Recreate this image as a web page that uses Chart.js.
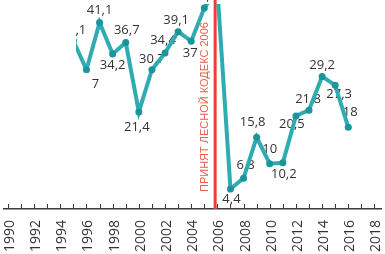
<!DOCTYPE html>
<html>
<head>
<meta charset="utf-8">
<script src="https://cdn.jsdelivr.net/npm/chart.js@4"></script>
<style>
  html, body { margin: 0; padding: 0; background: #fff; }
  canvas { display: block; }
</style>
</head>
<body>
<canvas id="chart" width="385" height="254"></canvas>
<script>
// values (1990-1994 are hidden in the reference)
const years = [1995, 1996, 1997, 1998, 1999, 2000, 2001, 2002, 2003, 2004, 2005,
               2006, 2007, 2008, 2009, 2010, 2011, 2012, 2013, 2014, 2015, 2016];
const values = [37.1, 30.7, 41.1, 34.2, 36.7, 21.4, 30.7, 34.4, 39.1, 37, 44.3,
                48.5, 4.4, 6.8, 15.8, 10, 10.2, 20.5, 21.8, 29.2, 27.3, 18];
const tickYears = [1990, 1992, 1994, 1996, 1998, 2000, 2002, 2004, 2006,
                   2008, 2010, 2012, 2014, 2016, 2018];
const lawYear = 2006;
const lawText = 'ПРИНЯТ ЛЕСНОЙ КОДЕКС 2006';

// where each value label sits, relative to its point (dx, dy)
const labelShift = [
  [0, -10], [0, 15], [0, -12], [0, 11], [1, -12], [-2, 15], [0, -10], [-2, -13],
  [-2, -11], [-1, 12], [0, -12], [0, -12], [1, 10], [2, -13], [-4, -15], [0, -14],
  [1, 12], [-4, 8], [-1, -11], [0, -11], [4, 9], [2, -15]
];

const allYears = [];
for (let y = tickYears[0]; y <= tickYears[tickYears.length - 1]; y++) allYears.push(y);

const fmt = v => String(v).replace('.', ',');

const yearTicks = {
  id: 'yearTicks',
  afterDraw(chart) {
    const xs = chart.scales.x, c = chart.ctx, b = chart.chartArea.bottom;
    c.save();
    c.strokeStyle = '#3a3a3a';
    c.lineWidth = 1;
    allYears.forEach(y => {
      const x = Math.round(xs.getPixelForValue(y)) + 0.5;
      c.beginPath();
      c.moveTo(x, b - 5);
      c.lineTo(x, b);
      c.stroke();
    });
    c.restore();
  }
};

const lawLine = {
  id: 'lawLine',
  beforeDatasetsDraw(chart) {
    const xs = chart.scales.x, c = chart.ctx, a = chart.chartArea;
    const x = xs.getPixelForValue(lawYear - 0.17);
    c.save();
    c.strokeStyle = '#e8412e';
    c.lineWidth = 3;
    c.beginPath();
    c.moveTo(x, 0);
    c.lineTo(x, a.bottom);
    c.stroke();
    c.translate(x - 10, a.bottom - 17);
    c.rotate(-Math.PI / 2);
    c.fillStyle = '#e6604b';
    c.font = '11px "Liberation Sans"';
    c.textAlign = 'left';
    c.textBaseline = 'middle';
    c.fillText(lawText, 0, 0);
    c.restore();
  }
};

const valueLabels = {
  id: 'valueLabels',
  beforeDatasetsDraw(chart) {
    const meta = chart.getDatasetMeta(0), c = chart.ctx;
    c.save();
    c.fillStyle = '#333';
    c.font = '13px "Open Sans"';
    c.textAlign = 'center';
    c.textBaseline = 'middle';
    meta.data.forEach((pt, i) => {
      const s = labelShift[i];
      c.fillText(fmt(values[i]), pt.x + s[0], pt.y + s[1]);
    });
    c.restore();
  }
};

// white area over the top-left corner, as in the reference
const cornerMask = {
  id: 'cornerMask',
  afterDatasetsDraw(chart) {
    const xs = chart.scales.x, ys = chart.scales.y, c = chart.ctx;
    const y30 = ys.getPixelForValue(30), y15 = ys.getPixelForValue(15);
    c.save();
    c.fillStyle = '#fff';
    c.fillRect(0, 0, xs.getPixelForValue(1995.2), y30);
    c.fillRect(0, y30, xs.getPixelForValue(1996.4), y15 - y30);
    c.restore();
  }
};

new Chart(document.getElementById('chart'), {
  type: 'line',
  data: {
    datasets: [{
      data: years.map((y, i) => ({ x: y, y: values[i] })),
      borderColor: '#2eacb1',
      borderWidth: 4,
      pointRadius: 3.5,
      pointBackgroundColor: '#1b959b',
      pointBorderWidth: 0,
      tension: 0
    }]
  },
  options: {
    responsive: false,
    animation: false,
    layout: { padding: 0 },
    plugins: { legend: { display: false }, tooltip: { enabled: false } },
    scales: {
      x: {
        type: 'linear',
        min: 1989.7,
        max: 2018.5,
        afterBuildTicks: s => { s.ticks = allYears.map(v => ({ value: v })); },
        afterFit: s => { s.height = 45; s.paddingLeft = 0; s.paddingRight = 0; },
        grid: { display: false, drawTicks: false },
        border: { display: true, color: '#3a3a3a', width: 1.5 },
        ticks: {
          autoSkip: false,
          minRotation: 90,
          maxRotation: 90,
          padding: 11,
          labelOffset: 2,
          color: '#333',
          font: { family: 'Open Sans', size: 14 },
          callback: v => tickYears.includes(v) ? String(v) : ''
        }
      },
      y: { display: false, min: 0, max: 45.2 }
    }
  },
  plugins: [lawLine, valueLabels, cornerMask, yearTicks]
});
</script>
</body>
</html>
